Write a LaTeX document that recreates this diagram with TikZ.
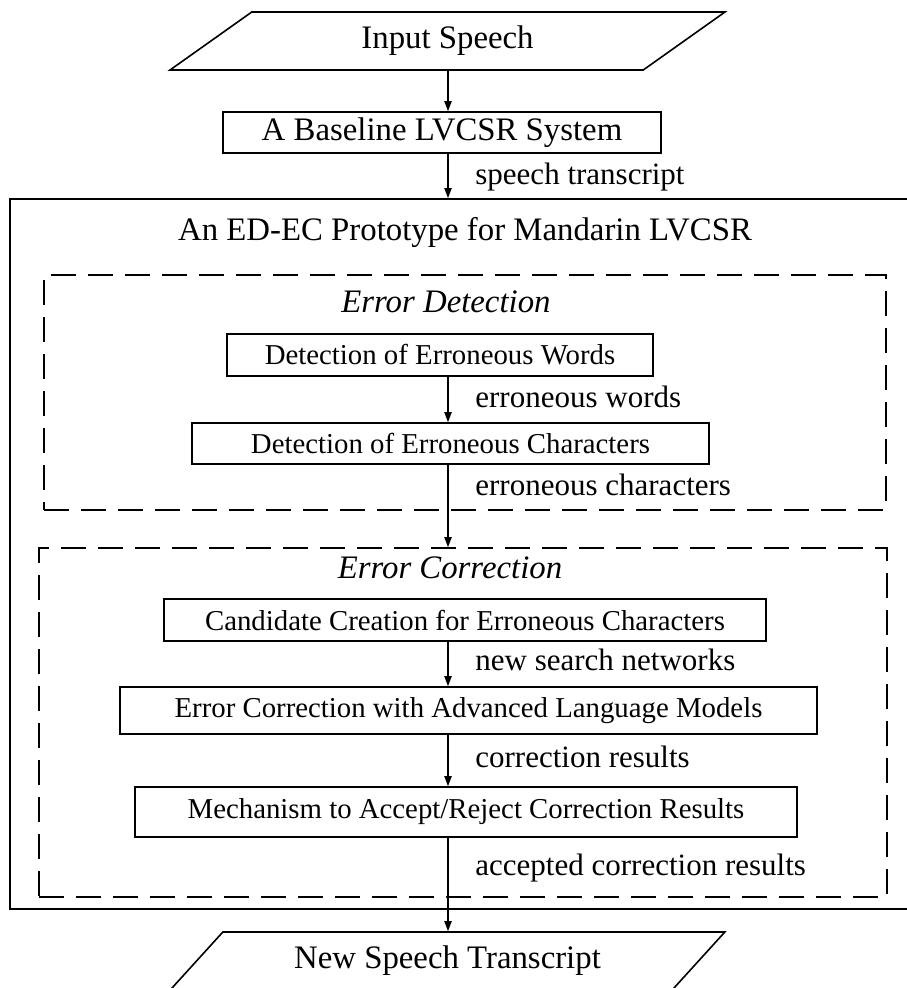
\documentclass[tikz,border=0pt]{standalone}
\usepackage{fontspec}
\setmainfont{Liberation Serif}
\usepackage{tikz}
\usetikzlibrary{shapes.geometric, arrows.meta, positioning, fit}

\begin{document}
\begin{tikzpicture}[
    x=0.5pt, y=-0.5pt,
    >={Triangle[length=5pt,width=3.6pt]},
    iobox/.style={
        trapezium,
        trapezium left angle=39.6,
        trapezium right angle=140.4,
        trapezium stretches=true,
        minimum width=277.5pt,
        minimum height=29pt,
        inner sep=0pt,
        draw,
        line width=0.8pt,
        font=\fontsize{16.4}{19}\selectfont
    },
    stage/.style={
        rectangle,
        draw,
        line width=0.8pt,
        inner sep=0pt,
        minimum height=21pt,
        font=\fontsize{14.4}{17}\selectfont
    },
    protoframe/.style={
        rectangle,
        draw,
        line width=0.9pt,
        inner sep=0pt
    },
    groupbox/.style={
        rectangle,
        draw,
        line width=0.8pt,
        dash pattern=on 12.5pt off 6pt,
        inner sep=0pt
    },
    heading/.style={
        font=\fontsize{16.4}{19}\selectfont
    },
    subheading/.style={
        font=\fontsize{16.4}{19}\selectfont\itshape
    },
    flowlabel/.style={
        anchor=west,
        inner sep=0pt,
        font=\fontsize{15.5}{18}\selectfont
    },
    arrow/.style={
        ->,
        line width=0.7pt
    }
]

\useasboundingbox (0,0) rectangle (906,988);
\coordinate (axis) at (448,0);

% Input / output
\node[iobox] (input) at (447.5,41) {Input Speech};
\node[iobox] (output) at (447.5,961) {New Speech Transcript};

% Baseline recogniser
\node[stage, minimum width=219pt, minimum height=20.5pt, font=\fontsize{16.4}{19}\selectfont] (base) at (442,132.5) {A Baseline LVCSR System};

% Prototype frame
\node[protoframe, fit={(10,199) (915,909)}] (proto) {};
\node[heading] (prototitle) at (465,232) {An ED-EC Prototype for Mandarin LVCSR};

% Error detection
\node[groupbox, fit={(44,275) (886,510)}] (detect) {};
\node[subheading] (detecttitle) at (446,302) {Error Detection};
\node[stage, minimum width=213pt] (words) at (440,355) {Detection of Erroneous Words};
\node[stage, minimum width=258.5pt, minimum height=20.5pt] (chars) at (450.5,443.5) {Detection of Erroneous Characters};

% Error correction
\node[groupbox, fit={(39,548) (887,897)}] (correct) {};
\node[subheading] (correcttitle) at (450,568) {Error Correction};
\node[stage, minimum width=301pt] (cand) at (465,620) {Candidate Creation for Erroneous Characters};
\node[stage, minimum width=348.5pt, minimum height=23.5pt] (alm) at (468.5,710.5) {Error Correction with Advanced Language Models};
\node[stage, minimum width=331pt, minimum height=25pt] (mech) at (466,812) {Mechanism to Accept/Reject Correction Results};

% Arrows
\draw[arrow] (input.south -| axis) -- (base.north -| axis);
\draw[arrow] (base.south -| axis) -- (proto.north -| axis);
\draw[arrow] (words.south -| axis) -- (chars.north -| axis);
\draw[arrow] (chars.south -| axis) -- (correct.north -| axis);
\draw[arrow] (cand.south -| axis) -- (alm.north -| axis);
\draw[arrow] (alm.south -| axis) -- (mech.north -| axis);
\draw[arrow] (mech.south -| axis) -- (output.north -| axis);

% Arrow labels
\node[flowlabel] (lbltranscript) at (475,177) {speech transcript};
\node[flowlabel] (lblwords) at (475,397) {erroneous words};
\node[flowlabel] (lblchars) at (475,485) {erroneous characters};
\node[flowlabel] (lblnetworks) at (475,660) {new search networks};
\node[flowlabel] (lblresults) at (475,757) {correction results};
\node[flowlabel] (lblaccepted) at (475,868) {accepted correction results};

\end{tikzpicture}
\end{document}
